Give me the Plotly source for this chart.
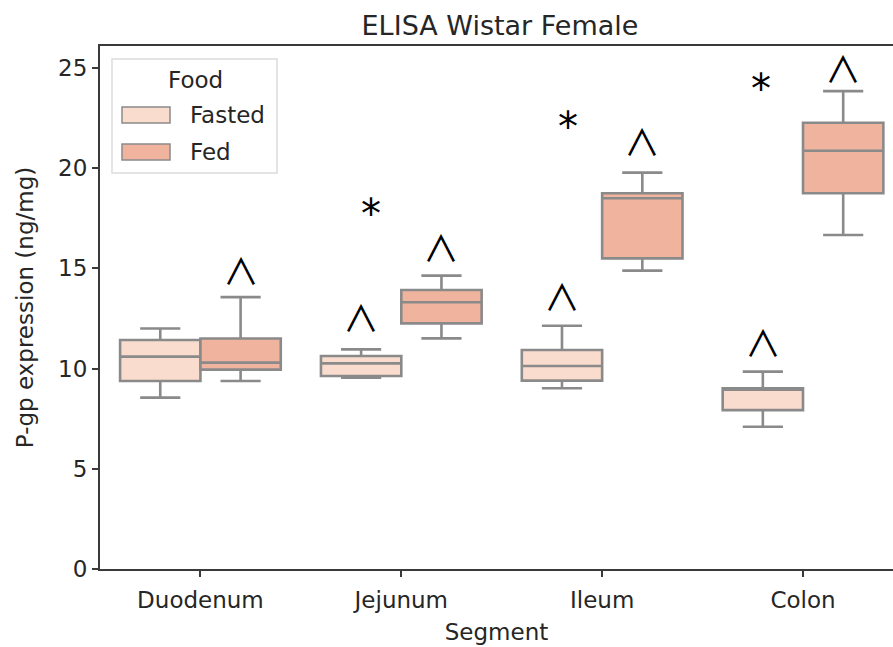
import plotly.graph_objects as go

# ELISA P-gp expression by intestinal segment, fasted vs fed (Wistar females)
segments = ["Duodenum", "Jejunum", "Ileum", "Colon"]

fasted_lower = [8.55, 9.55, 9.02, 7.10]
fasted_q1 = [9.38, 9.63, 9.40, 7.93]
fasted_median = [10.60, 10.26, 10.13, 8.95]
fasted_q3 = [11.43, 10.63, 10.93, 9.02]
fasted_upper = [12.00, 10.96, 12.14, 9.85]

fed_lower = [9.38, 11.51, 14.89, 16.67]
fed_q1 = [9.95, 12.26, 15.50, 18.75]
fed_median = [10.30, 13.31, 18.50, 20.87]
fed_q3 = [11.50, 13.92, 18.75, 22.27]
fed_upper = [13.57, 14.64, 19.78, 23.85]

# significance markers: "^" above each box, "*" between groups
caret_fasted_y = [None, 12.47, 13.52, 11.23]
caret_fed_y = [14.82, 15.97, 21.26, 24.90]
star_y = [None, 18.16, 22.50, 24.40]
star_x_offset = [None, -0.15, -0.17, -0.21]

FASTED_COLOR = "rgb(250,220,207)"
FED_COLOR = "rgb(240,179,157)"
EDGE = "rgb(138,138,138)"
FONT = "DejaVu Sans"
CARET_FONT = "Noto Sans CJK JP"
TEXT = "#262626"

W, H = 893, 647
ML, MR, MT, MB = 100, 0, 46, 78

fig = go.Figure()
fig.add_trace(go.Box(
    x=segments, q1=fasted_q1, median=fasted_median, q3=fasted_q3,
    lowerfence=fasted_lower, upperfence=fasted_upper,
    name="Fasted", fillcolor=FASTED_COLOR, line=dict(color=EDGE, width=2.6),
    boxpoints=False, showlegend=False, hoverinfo="skip",
))
fig.add_trace(go.Box(
    x=segments, q1=fed_q1, median=fed_median, q3=fed_q3,
    lowerfence=fed_lower, upperfence=fed_upper,
    name="Fed", fillcolor=FED_COLOR, line=dict(color=EDGE, width=2.6),
    boxpoints=False, showlegend=False, hoverinfo="skip",
))

annotations = []
for i, seg in enumerate(segments):
    for off, vals in ((-0.2, caret_fasted_y), (0.2, caret_fed_y)):
        if vals[i] is not None:
            annotations.append(dict(
                x=i + off, y=vals[i], xref="x", yref="y", text="∧",
                showarrow=False,
                font=dict(family=CARET_FONT, size=36, color="black"),
                xanchor="center", yanchor="middle", yshift=3,
            ))
    if star_y[i] is not None:
        annotations.append(dict(
            x=i + star_x_offset[i], y=star_y[i], xref="x", yref="y", text="*",
            showarrow=False, font=dict(family=FONT, size=40, color="black"),
            xanchor="center", yanchor="middle", yshift=-9,
        ))

# hand-built legend in the upper-left corner of the axes
pw, ph = W - ML - MR, H - MT - MB


def px(xp):
    return (xp - ML) / pw


def py(yp):
    return (H - MB - yp) / ph


shapes = [
    dict(type="rect", xref="paper", yref="paper",
         x0=px(112), x1=px(277), y0=py(173), y1=py(59),
         line=dict(color="rgb(220,220,220)", width=1.5),
         fillcolor="rgba(255,255,255,0.85)", layer="above"),
]
legend_items = [("Fasted", FASTED_COLOR, 115), ("Fed", FED_COLOR, 152)]
for label, color, yc in legend_items:
    shapes.append(dict(
        type="rect", xref="paper", yref="paper",
        x0=px(122), x1=px(170), y0=py(yc + 8), y1=py(yc - 8),
        line=dict(color=EDGE, width=1.5), fillcolor=color, layer="above",
    ))
    annotations.append(dict(
        x=px(188), y=py(yc), xref="paper", yref="paper", text=label,
        showarrow=False, xanchor="left", yanchor="middle",
        font=dict(family=FONT, size=23, color=TEXT),
    ))
annotations.append(dict(
    x=px(195), y=py(80), xref="paper", yref="paper", text="Food",
    showarrow=False, xanchor="center", yanchor="middle",
    font=dict(family=FONT, size=23, color=TEXT),
))

fig.update_layout(
    width=W, height=H,
    margin=dict(l=ML, r=MR, t=MT, b=MB),
    paper_bgcolor="white", plot_bgcolor="white",
    boxmode="group", boxgap=0.2, boxgroupgap=0.0,
    font=dict(family=FONT, size=23, color=TEXT),
    title=dict(text="ELISA Wistar Female", x=500 / W, xanchor="center",
               y=1 - 26 / H, yanchor="middle",
               font=dict(family=FONT, size=27, color=TEXT)),
    xaxis=dict(
        type="category", range=[-0.5, 3.448],
        showline=True, linecolor="#3a3a3a", linewidth=2, mirror=True,
        ticks="outside", ticklen=6, tickwidth=1.5, tickcolor="#3a3a3a",
        showgrid=False, zeroline=False,
        title=dict(text="Segment", standoff=12, font=dict(size=23)),
        tickfont=dict(size=23), ticklabelstandoff=3,
    ),
    yaxis=dict(
        range=[0, 26.1], tickvals=[0, 5, 10, 15, 20, 25],
        showline=True, linecolor="#3a3a3a", linewidth=2,
        ticks="outside", ticklen=6, tickwidth=1.5, tickcolor="#3a3a3a",
        showgrid=False, zeroline=False,
        title=dict(text="P-gp expression (ng/mg)", standoff=18, font=dict(size=23)),
        tickfont=dict(size=23),
    ),
    shapes=shapes,
    annotations=annotations,
)

fig.write_html("out.html")
